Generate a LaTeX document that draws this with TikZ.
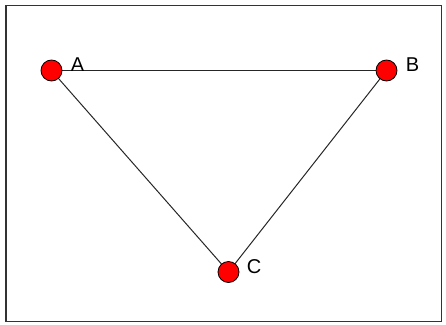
\documentclass[tikz,border=0pt]{standalone}
\usepackage{fontspec}
\setmainfont{Liberation Sans}
\begin{document}
\begin{tikzpicture}[x=1pt,y=-1pt,
  dot/.style={circle,draw=black,fill=red,line width=0.8pt,minimum size=21pt,inner sep=0pt},
  lbl/.style={inner sep=0pt,font=\fontsize{20}{20}\selectfont,anchor=center},
  edge/.style={draw=black!85,line width=1pt}]
\useasboundingbox (0,0) rectangle (446,324);
\draw[line width=1.5pt,black!80] (6,5.5) rectangle (441.5,321.5);
\coordinate (pA) at (51.5,70.5);
\coordinate (pB) at (386.5,70.5);
\coordinate (pC) at (228.5,272);
\draw[edge] (pA) -- (pB);
\draw[edge] (pA) -- (pC);
\draw[edge] (pB) -- (pC);
\node[dot] (A) at (pA) {};
\node[dot] (B) at (pB) {};
\node[dot] (C) at (pC) {};
\node[lbl] (lA) at (77.5,65) {A};
\node[lbl] (lB) at (412.5,65) {B};
\node[lbl] (lC) at (254,267) {C};
\end{tikzpicture}
\end{document}
